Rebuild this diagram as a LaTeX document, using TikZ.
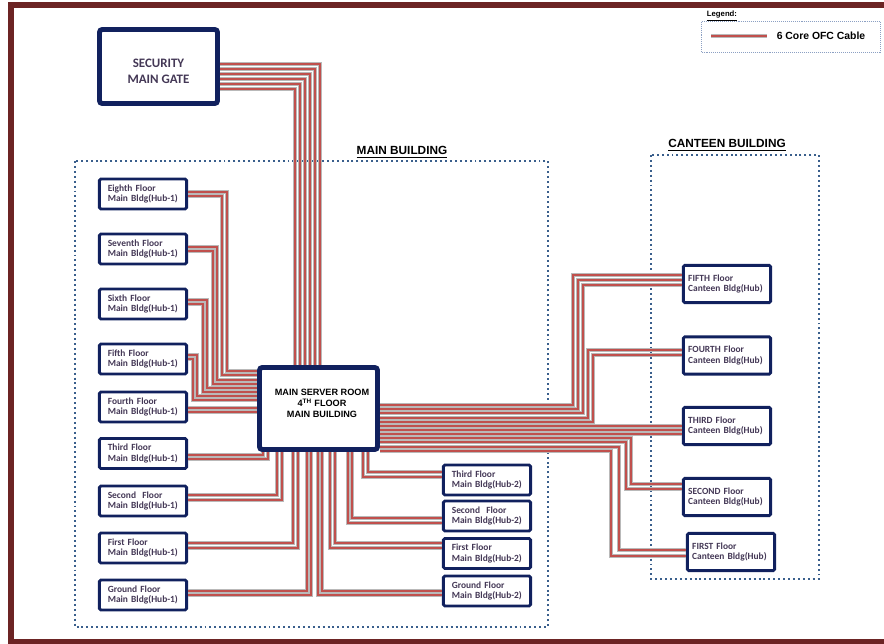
\documentclass[tikz,border=0pt]{standalone}
\usepackage{fontspec}
\setmainfont{Liberation Sans}
\newfontfamily\calfont{Carlito}
\usetikzlibrary{positioning}
\definecolor{navyb}{RGB}{17,33,94}
\definecolor{ofcred}{RGB}{192,80,77}
\definecolor{ofcgray}{RGB}{185,185,185}
\definecolor{dotblue}{RGB}{58,95,140}
\definecolor{legc}{RGB}{140,160,195}
\definecolor{labelc}{RGB}{68,56,86}
\definecolor{framec}{RGB}{108,36,36}
\newcommand{\hubfont}{\calfont\bfseries\fontsize{6.7}{7.8}\selectfont}
\newcommand{\gatefont}{\calfont\bfseries\fontsize{9.2}{11.3}\selectfont}
\newcommand{\srvfont}{\bfseries\fontsize{6.5}{7.6}\selectfont}

\begin{document}
\begin{tikzpicture}[x=0.025cm,y=-0.025cm,
    ofc/.style={draw=ofcred,line width=1.5pt,preaction={draw=ofcgray,line width=3.2pt}},
    bigbox/.style={draw=navyb,line width=3.5pt,rounded corners=2pt,fill=white,minimum width=2.95cm,minimum height=2.05cm,align=center},
    hubbox/.style={draw=navyb,line width=2pt,rounded corners=1pt,fill=white,text=labelc,font=\hubfont,align=left,inner xsep=0.21cm,inner ysep=1pt,text width=1.76cm,minimum height=0.75cm},
    canbox/.style={hubbox,inner xsep=0.12cm,text width=1.94cm,minimum height=0.93cm},
    bldg/.style={draw=dotblue,line width=1.4pt,dash pattern=on 1.4pt off 2.1pt},
    title/.style={font=\bfseries\fontsize{8.4}{10}\selectfont,anchor=base}]
      \useasboundingbox (0,0) rectangle (884,644);
      % frame and building outlines
      \draw[framec,line width=3.6pt] (884,5) -- (11,5) -- (11,641.5) -- (884,641.5);
      \draw[bldg] (75,161) rectangle (548,627);
      \draw[bldg] (651,155) rectangle (819,579);
      \node[title] (mbtitle) at (402,155) {\underline{MAIN BUILDING}};
      \node[title] (cbtitle) at (727,148) {\underline{CANTEEN BUILDING}};
      % legend
      \node[font=\bfseries\fontsize{5.5}{6}\selectfont,anchor=base] (legtitle) at (722,16.5) {\underline{Legend:}};
      \node[draw=legc,line width=0.5pt,dash pattern=on 0.7pt off 0.7pt,minimum width=4.47cm,minimum height=0.79cm] (legbox) at (791,37) {};
      \coordinate (lega) at (711,36);
      \coordinate (legb) at (767,36);
      \draw[ofc] (lega)--(legb);
      \node[font=\bfseries\fontsize{7.4}{9}\selectfont] (legtext) at (821,36) {6 Core OFC Cable};
      % gate and server room
      \node[bigbox,minimum height=1.85cm,label={[text=labelc,font=\gatefont,align=center,yshift=-3.2pt]center:{SECURITY\\MAIN GATE}}] (gate) at (158.5,66.5) {};
      \node[bigbox,label={[font=\srvfont,align=center,xshift=2.5pt,yshift=3.6pt]center:{MAIN SERVER ROOM\\4\textsuperscript{TH} FLOOR\\MAIN BUILDING}}] (srv) at (318.5,408.5) {};
      % main building hubs (Hub-1)
      \node[hubbox] (h8) at (143,194) {Eighth Floor\\Main Bldg(Hub-1)};
      \node[hubbox] (h7) at (143,249) {Seventh Floor\\Main Bldg(Hub-1)};
      \node[hubbox] (h6) at (143,304) {Sixth Floor\\Main Bldg(Hub-1)};
      \node[hubbox] (h5) at (143,359) {Fifth Floor\\Main Bldg(Hub-1)};
      \node[hubbox] (h4) at (143,407) {Fourth Floor\\Main Bldg(Hub-1)};
      \node[hubbox] (h3) at (143,453.5) {Third Floor\\Main Bldg(Hub-1)};
      \node[hubbox] (h2) at (143,501) {Second~ Floor\\Main Bldg(Hub-1)};
      \node[hubbox] (h1) at (143,548) {First Floor\\Main Bldg(Hub-1)};
      \node[hubbox] (h0) at (143,595) {Ground Floor\\Main Bldg(Hub-1)};
      % main building hubs (Hub-2)
      \node[hubbox] (t3) at (487,480) {Third Floor\\Main Bldg(Hub-2)};
      \node[hubbox] (t2) at (487,516) {Second~ Floor\\Main Bldg(Hub-2)};
      \node[hubbox] (t1) at (487,553.5) {First Floor\\Main Bldg(Hub-2)};
      \node[hubbox] (t0) at (487,591) {Ground Floor\\Main Bldg(Hub-2)};
      % canteen hubs
      \node[canbox] (c5) at (727,284) {FIFTH Floor\\Canteen Bldg(Hub)};
      \node[canbox] (c4) at (727,355.5) {FOURTH Floor\\Canteen Bldg(Hub)};
      \node[canbox] (c3) at (727,426) {THIRD Floor\\Canteen Bldg(Hub)};
      \node[canbox] (c2) at (727,497) {SECOND Floor\\Canteen Bldg(Hub)};
      \node[canbox] (c1) at (731,552) {FIRST Floor\\Canteen Bldg(Hub)};
      % gate cables
      \draw[ofc] (gate.east |- 0,64) -| (srv.north -| 320,0);
      \draw[ofc] (gate.east |- 0,69) -| (srv.north -| 315,0);
      \draw[ofc] (gate.east |- 0,74) -| (srv.north -| 310,0);
      \draw[ofc] (gate.east |- 0,79) -| (srv.north -| 305,0);
      \draw[ofc] (gate.east |- 0,84) -| (srv.north -| 300,0);
      \draw[ofc] (gate.east |- 0,89) -| (srv.north -| 295,0);
      % Hub-1 cables
      \draw[ofc] (h8.east |- 0,192) -| (227,371) -- (srv.west |- 0,371);
      \draw[ofc] (h8.east |- 0,196) -| (222,375) -- (srv.west |- 0,375);
      \draw[ofc] (h7.east |- 0,247) -| (217,380) -- (srv.west |- 0,380);
      \draw[ofc] (h7.east |- 0,251) -| (213,384) -- (srv.west |- 0,384);
      \draw[ofc] (h6.east |- 0,300) -| (207,388) -- (srv.west |- 0,388);
      \draw[ofc] (h6.east |- 0,304) -| (203,392) -- (srv.west |- 0,392);
      \draw[ofc] (h5.east |- 0,355) -| (197,396) -- (srv.west |- 0,396);
      \draw[ofc] (h5.east |- 0,359) -| (193,400) -- (srv.west |- 0,400);
      \draw[ofc] (h4.east |- 0,408) -- (srv.west |- 0,408);
      \draw[ofc] (h4.east |- 0,412) -- (srv.west |- 0,412);
      \draw[ofc] (h3.east |- 0,455) -| (srv.south -| 263,0);
      \draw[ofc] (h3.east |- 0,459) -| (srv.south -| 268,0);
      \draw[ofc] (h2.east |- 0,495) -| (srv.south -| 277,0);
      \draw[ofc] (h2.east |- 0,500) -| (srv.south -| 282,0);
      \draw[ofc] (h1.east |- 0,543) -| (srv.south -| 293,0);
      \draw[ofc] (h1.east |- 0,548) -| (srv.south -| 298,0);
      \draw[ofc] (h0.east |- 0,591) -| (srv.south -| 307,0);
      \draw[ofc] (h0.east |- 0,595) -| (srv.south -| 311,0);
      % Hub-2 cables
      \draw[ofc] (t3.west |- 0,472) -| (srv.south -| 368,0);
      \draw[ofc] (t3.west |- 0,477) -| (srv.south -| 363,0);
      \draw[ofc] (t2.west |- 0,518) -| (srv.south -| 352,0);
      \draw[ofc] (t2.west |- 0,523) -| (srv.south -| 348,0);
      \draw[ofc] (t1.west |- 0,543) -| (srv.south -| 335,0);
      \draw[ofc] (t1.west |- 0,548) -| (srv.south -| 330,0);
      \draw[ofc] (t0.west |- 0,591) -| (srv.south -| 322,0);
      \draw[ofc] (t0.west |- 0,595) -| (srv.south -| 318,0);
      % canteen cables
      \draw[ofc] (srv.east |- 0,405) -| (573,275) -- (c5.west |- 0,275);
      \draw[ofc] (srv.east |- 0,409) -| (578,280) -- (c5.west |- 0,280);
      \draw[ofc] (srv.east |- 0,413) -| (583,285) -- (c5.west |- 0,285);
      \draw[ofc] (srv.east |- 0,418) -| (588,350) -- (c4.west |- 0,350);
      \draw[ofc] (srv.east |- 0,422) -| (593,355) -- (c4.west |- 0,355);
      \draw[ofc] (srv.east |- 0,426) -- (c3.west |- 0,426);
      \draw[ofc] (srv.east |- 0,430) -- (c3.west |- 0,430);
      \draw[ofc] (srv.east |- 0,434) -- (c3.west |- 0,434);
      \draw[ofc] (srv.east |- 0,438) -| (631,484) -- (c2.west |- 0,484);
      \draw[ofc] (srv.east |- 0,442) -| (626,489) -- (c2.west |- 0,489);
      \draw[ofc] (srv.east |- 0,447) -| (619,550) -- (c1.west |- 0,550);
      \draw[ofc] (srv.east |- 0,451) -| (611,556) -- (c1.west |- 0,556);
\end{tikzpicture}
\end{document}
